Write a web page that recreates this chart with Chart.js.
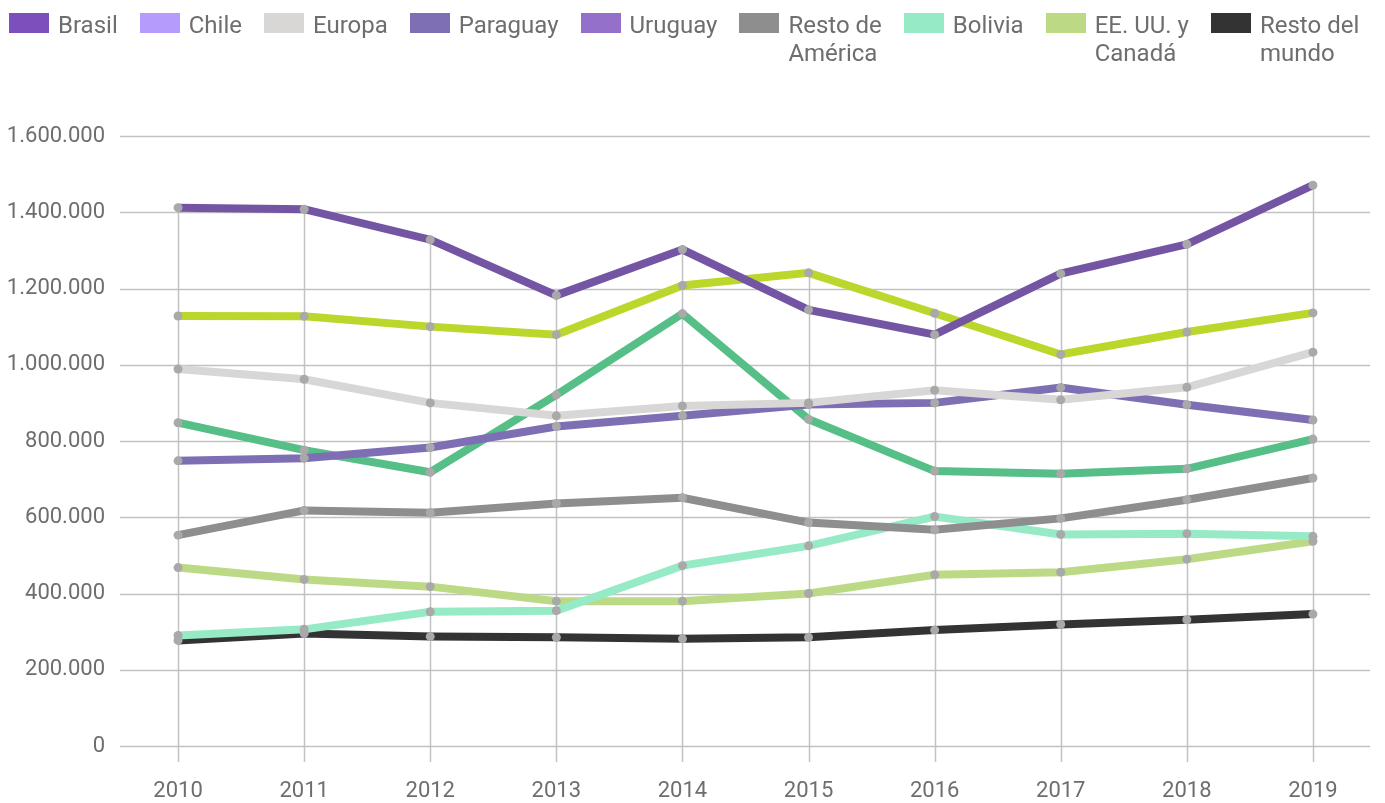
<!DOCTYPE html>
<html lang="es">
<head>
<meta charset="utf-8">
<title>Turistas por origen 2010-2019</title>
<script src="https://cdn.jsdelivr.net/npm/chart.js@4/dist/chart.umd.min.js"></script>
<style>
  html, body { margin: 0; padding: 0; background: #fff; }
  #wrap { position: relative; width: 1385px; height: 803px; }
  #legend {
    position: absolute; left: 9px; top: 11px;
    display: flex; align-items: flex-start;
    font-family: Roboto, "Noto Sans", sans-serif; font-size: 24px;
    line-height: 28px; color: #6e6e6e;
  }
  .item { display: flex; align-items: flex-start; margin-right: 22px; }
  .item:last-child { margin-right: 0; }
  .box { width: 40px; height: 20px; margin-top: 2px; margin-right: 9px; flex: none; }
  .lbl { white-space: pre-line; }
  canvas { position: absolute; left: 0; top: 0; }
</style>
</head>
<body>
<div id="wrap">
  <canvas id="chart" width="1385" height="803"></canvas>
  <div id="legend"></div>
</div>
<script>
// años
const years = ['2010', '2011', '2012', '2013', '2014', '2015', '2016', '2017', '2018', '2019'];

// series (turistas)
const brasil       = [1412000, 1408000, 1328000, 1182000, 1302000, 1144000, 1079000, 1239000, 1316000, 1471000];
const chile        = [1128000, 1127000, 1100000, 1079000, 1208000, 1241000, 1135000, 1027000, 1086000, 1136000];
const europa       = [989000, 962000, 900000, 866000, 892000, 900000, 933000, 908000, 941000, 1033000];
const paraguay     = [748000, 755000, 783000, 838000, 866000, 896000, 900000, 940000, 895000, 855000];
const uruguay      = [848000, 776000, 718000, 921000, 1134000, 857000, 721000, 714000, 727000, 805000];
const restoAmerica = [553000, 618000, 612000, 636000, 651000, 586000, 567000, 597000, 646000, 703000];
const bolivia      = [290000, 306000, 352000, 355000, 473000, 525000, 602000, 555000, 557000, 550000];
const eeuuCanada   = [468000, 437000, 418000, 380000, 380000, 400000, 449000, 456000, 490000, 537000];
const restoMundo   = [277000, 295000, 287000, 285000, 281000, 285000, 304000, 319000, 331000, 346000];

const seriesNames = ['Brasil', 'Chile', 'Europa', 'Paraguay', 'Uruguay', 'Resto de\nAmérica', 'Bolivia', 'EE. UU. y\nCanadá', 'Resto del\nmundo'];
const seriesData  = [brasil, chile, europa, paraguay, uruguay, restoAmerica, bolivia, eeuuCanada, restoMundo];

// y axis ticks
const yTicks = [0, 200000, 400000, 600000, 800000, 1000000, 1200000, 1400000, 1600000];

// colores: la leyenda original no coincide con todas las líneas
const legendColors = ['#7b4fbc', '#b59bfb', '#d9d6d6', '#7e6fb4', '#9470cb', '#8e8e8e', '#96ebc6', '#bcda85', '#333333'];
const lineColors   = ['#7355a4', '#bcd62b', '#d9d6d6', '#7e6fb4', '#55bf87', '#8e8e8e', '#96ebc6', '#bcda85', '#333333'];

const fmt = v => String(v).replace(/\B(?=(\d{3})+(?!\d))/g, '.');

// html legend
const legendEl = document.getElementById('legend');
seriesNames.forEach((name, i) => {
  const item = document.createElement('div');
  item.className = 'item';
  const box = document.createElement('span');
  box.className = 'box';
  box.style.background = legendColors[i];
  const lbl = document.createElement('span');
  lbl.className = 'lbl';
  lbl.textContent = name;
  item.appendChild(box);
  item.appendChild(lbl);
  legendEl.appendChild(item);
});

// horizontal grid + drop lines from the highest point of each year
const gridPlugin = {
  id: 'gridLines',
  beforeDatasetsDraw(chart) {
    const { ctx, chartArea, scales } = chart;
    const x = scales.x, y = scales.y;
    ctx.save();
    ctx.lineWidth = 1.5;
    ctx.strokeStyle = '#c2c2c2';
    y.ticks.forEach(t => {
      const py = Math.round(y.getPixelForValue(t.value)) + 0.5;
      ctx.beginPath();
      ctx.moveTo(chartArea.left + 5, py);
      ctx.lineTo(chartArea.right - 6, py);
      ctx.stroke();
    });
    years.forEach((yr, i) => {
      const top = Math.max(...seriesData.map(s => s[i]));
      const px = Math.round(x.getPixelForValue(i)) + 0.5;
      ctx.beginPath();
      ctx.moveTo(px, y.getPixelForValue(top));
      ctx.lineTo(px, chartArea.bottom + 16);
      ctx.stroke();
    });
    ctx.restore();
  }
};

// grey markers on top of every line
const markerPlugin = {
  id: 'markers',
  afterDatasetsDraw(chart) {
    const ctx = chart.ctx;
    ctx.save();
    ctx.fillStyle = '#a9a9a9';
    chart.data.datasets.forEach((ds, i) => {
      chart.getDatasetMeta(i).data.forEach(pt => {
        ctx.beginPath();
        ctx.arc(pt.x, pt.y, 4.5, 0, Math.PI * 2);
        ctx.fill();
      });
    });
    ctx.restore();
  }
};

new Chart(document.getElementById('chart'), {
  type: 'line',
  data: {
    labels: years,
    datasets: seriesData.map((vals, i) => ({
      label: seriesNames[i].replace('\n', ' '),
      data: vals,
      borderColor: lineColors[i],
      backgroundColor: lineColors[i],
      borderWidth: 8,
      tension: 0,
      pointRadius: 0,
      pointHoverRadius: 0,
      fill: false
    }))
  },
  options: {
    responsive: false,
    animation: false,
    events: [],
    layout: { padding: { top: 136, right: 9, bottom: 0, left: 0 } },
    plugins: {
      legend: { display: false },
      tooltip: { enabled: false }
    },
    scales: {
      x: {
        offset: true,
        grid: { display: false, drawTicks: false },
        border: { display: false },
        afterFit: scale => { scale.height = 57; },
        ticks: {
          padding: 32,
          maxRotation: 0,
          color: '#6e6e6e',
          font: { family: 'Roboto, "Noto Sans", sans-serif', size: 22 }
        }
      },
      y: {
        min: 0,
        max: 1600000,
        grid: { display: false, drawTicks: false },
        border: { display: false },
        afterBuildTicks: scale => { scale.ticks = yTicks.map(v => ({ value: v })); },
        afterFit: scale => { scale.width = 115; },
        ticks: {
          padding: 10,
          color: '#6e6e6e',
          font: { family: 'Roboto, "Noto Sans", sans-serif', size: 22 },
          callback: v => fmt(v)
        }
      }
    }
  },
  plugins: [gridPlugin, markerPlugin]
});
</script>
</body>
</html>
